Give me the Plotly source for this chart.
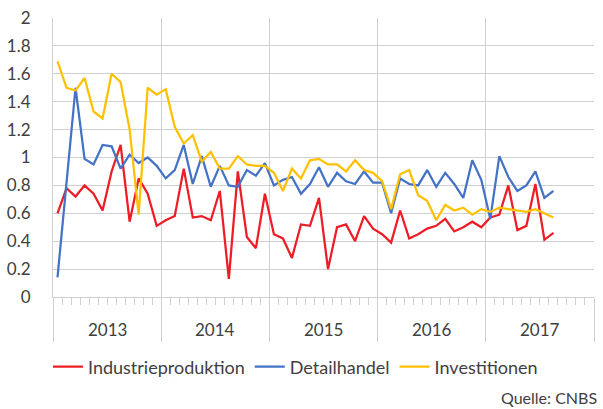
import plotly.graph_objects as go

years = ["2013", "2014", "2015", "2016", "2017"]

industrieproduktion = [
    0.60, 0.78, 0.72, 0.80, 0.74, 0.62, 0.90, 1.09, 0.54, 0.85, 0.74, 0.51,
    0.55, 0.58, 0.92, 0.57, 0.58, 0.55, 0.76, 0.13, 0.90, 0.43, 0.35, 0.74,
    0.45, 0.42, 0.28, 0.52, 0.51, 0.71, 0.20, 0.50, 0.52, 0.40, 0.58, 0.49,
    0.45, 0.39, 0.62, 0.42, 0.45, 0.49, 0.51, 0.56, 0.47, 0.50, 0.54, 0.50,
    0.57, 0.59, 0.80, 0.48, 0.51, 0.81, 0.41, 0.46,
]
detailhandel = [
    0.14, 0.82, 1.50, 0.99, 0.95, 1.09, 1.08, 0.92, 1.02, 0.96, 1.00, 0.94,
    0.85, 0.91, 1.09, 0.81, 1.01, 0.79, 0.94, 0.80, 0.79, 0.91, 0.87, 0.96,
    0.80, 0.84, 0.86, 0.74, 0.81, 0.93, 0.79, 0.89, 0.83, 0.81, 0.90, 0.82,
    0.82, 0.60, 0.85, 0.81, 0.80, 0.91, 0.79, 0.89, 0.81, 0.71, 0.98, 0.84,
    0.56, 1.01, 0.86, 0.76, 0.80, 0.90, 0.71, 0.76,
]
investitionen = [
    1.69, 1.50, 1.48, 1.57, 1.33, 1.28, 1.60, 1.54, 1.20, 0.59, 1.50, 1.45,
    1.49, 1.22, 1.10, 1.16, 0.97, 1.04, 0.92, 0.92, 1.01, 0.95, 0.94, 0.94,
    0.89, 0.76, 0.92, 0.85, 0.98, 0.99, 0.95, 0.95, 0.90, 0.98, 0.91, 0.89,
    0.83, 0.63, 0.88, 0.91, 0.73, 0.69, 0.55, 0.66, 0.62, 0.64, 0.59, 0.63,
    0.61, 0.64, 0.63, 0.62, 0.61, 0.63, 0.60, 0.57,
]

months_per_year = 12
n_months = months_per_year * len(years)
x = list(range(len(industrieproduktion)))

FONT = "Lato"
TXT = "#404040"
GRID = "#d0d0d0"

W, H = 603, 409
ML, MR, MT, MB = 53, 9, 18, 112
PW, PH = W - ML - MR, H - MT - MB

fig = go.Figure()
for name, vals, col in [
    ("Industrieproduktion", industrieproduktion, "#EE1C25"),
    ("Detailhandel", detailhandel, "#4472C4"),
    ("Investitionen", investitionen, "#FFC000"),
]:
    fig.add_trace(go.Scatter(x=x, y=vals, mode="lines", name=name,
                             line=dict(color=col, width=2.25)))

year_bounds = [i * months_per_year - 0.5 for i in range(len(years) + 1)]
month_bounds = [i - 0.5 for i in range(n_months + 1)]

fig.update_xaxes(
    automargin=False,
    range=[-0.5, n_months - 0.5],
    tickvals=year_bounds, showticklabels=False,
    ticks="outside", ticklen=44, tickcolor=GRID, tickwidth=1,
    showgrid=True, gridcolor=GRID, gridwidth=1,
    showline=True, linecolor=GRID, linewidth=1,
    zeroline=False,
    minor=dict(tickvals=month_bounds, ticks="outside", ticklen=7,
               tickcolor=GRID, tickwidth=1, showgrid=False),
)
fig.update_yaxes(
    automargin=False,
    range=[0, 2], dtick=0.2, tick0=0,
    showgrid=True, gridcolor=GRID, gridwidth=1,
    showline=True, linecolor=GRID, linewidth=1,
    zeroline=False,
    ticks="outside", ticklen=18, tickcolor="rgba(0,0,0,0)",
    tickfont=dict(family=FONT, size=17, color=TXT),
)

for i, yr in enumerate(years):
    fig.add_annotation(x=i * months_per_year + (months_per_year - 1) / 2,
                       y=-(330 - (H - MB)) / PH,
                       xref="x", yref="paper", text=yr,
                       showarrow=False, yanchor="middle",
                       font=dict(family=FONT, size=17, color=TXT))

fig.add_annotation(x=(599 - ML) / PW, y=-(397 - (H - MB)) / PH,
                   xref="paper", yref="paper", text="Quelle: CNBS",
                   showarrow=False, xanchor="right", yanchor="middle",
                   font=dict(family=FONT, size=16, color=TXT))

fig.update_layout(
    width=W, height=H,
    margin=dict(l=ML, r=MR, t=MT, b=MB, autoexpand=False),
    paper_bgcolor="white", plot_bgcolor="white",
    font=dict(family=FONT, size=17, color=TXT),
    showlegend=True,
    legend=dict(orientation="h", xref="container", yref="container",
                x=0.49, xanchor="center", y=1 - 367 / H, yanchor="middle",
                font=dict(family=FONT, size=18, color=TXT),
                itemwidth=30, tracegroupgap=0),
)

fig.write_html("out.html", config={"displayModeBar": False},
               post_script="document.body.style.margin='0';")
